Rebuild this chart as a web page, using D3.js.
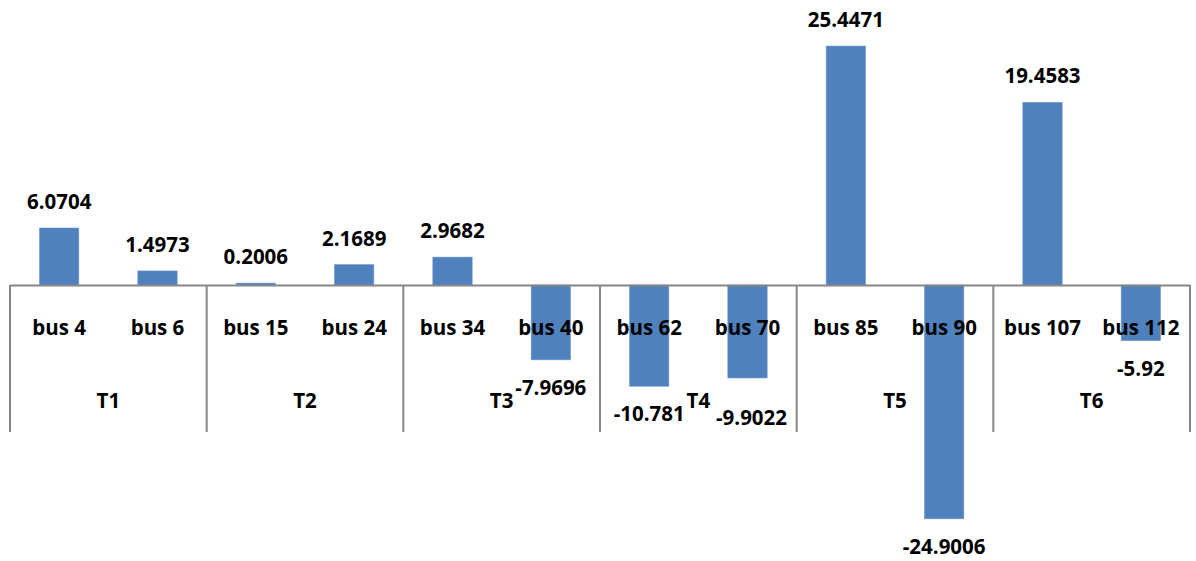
<!DOCTYPE html>
<html>
<head>
<meta charset="utf-8">
<script src="https://cdn.jsdelivr.net/npm/d3@7"></script>
<style>
  html, body { margin: 0; padding: 0; background: #fff; }
  svg { display: block; }
  text { font-family: "Open Sans", sans-serif; font-weight: 700; font-size: 20.5px; fill: #000; }
</style>
</head>
<body>
<svg id="chart" width="1196" height="561"></svg>
<script>
// chart data
const buses = ["bus 4", "bus 6", "bus 15", "bus 24", "bus 34", "bus 40",
               "bus 62", "bus 70", "bus 85", "bus 90", "bus 107", "bus 112"];
const groupOf = ["T1", "T1", "T2", "T2", "T3", "T3", "T4", "T4", "T5", "T5", "T6", "T6"];
const groups = ["T1", "T2", "T3", "T4", "T5", "T6"];
const values = [6.0704, 1.4973, 0.2006, 2.1689, 2.9682, -7.9696,
                -10.781, -9.9022, 25.4471, -24.9006, 19.4583, -5.92];

// small nudges Excel applied to a couple of labels (layout only)
const labelNudge = { "bus 70": [4, 12] };

const svg = d3.select("#chart");
const left = 10, right = 1190, zeroY = 285;
const pxPerUnit = 9.39;

const x = d3.scaleBand().domain(buses).range([left, right]).paddingInner(0.6).paddingOuter(0.3);
const xg = d3.scaleBand().domain(groups).range([left, right]);
const y = d3.scaleLinear().domain([-27, 27]).range([zeroY + 27 * pxPerUnit, zeroY - 27 * pxPerUnit]);

const rows = buses.map((b, i) => ({ bus: b, group: groupOf[i], v: values[i] }));

// bars
svg.append("g").selectAll("rect")
  .data(rows)
  .join("rect")
  .attr("x", d => x(d.bus))
  .attr("width", x.bandwidth())
  .attr("y", d => y(Math.max(0, d.v)))
  .attr("height", d => Math.abs(y(d.v) - y(0)))
  .attr("fill", "#4F81BD")
  .attr("stroke", "#6f98cc")
  .attr("stroke-width", 0.6);

// data labels
svg.append("g").selectAll("text")
  .data(rows)
  .join("text")
  .attr("text-anchor", "middle")
  .attr("x", d => x(d.bus) + x.bandwidth() / 2 + (labelNudge[d.bus] ? labelNudge[d.bus][0] : 0))
  .attr("y", d => (d.v >= 0 ? y(d.v) - 19 : y(d.v) + 35) + (labelNudge[d.bus] ? labelNudge[d.bus][1] : 0))
  .text(d => String(d.v));

// category axis (bus level)
const busAxis = svg.append("g")
  .attr("transform", `translate(0,${y(0)})`)
  .call(d3.axisBottom(d3.scaleBand().domain(buses).range([left, right])).tickSize(0).tickSizeOuter(0));
busAxis.select(".domain").attr("stroke", "#868686").attr("stroke-width", 2);
busAxis.selectAll(".tick text")
  .attr("y", 50).attr("dy", null)
  .attr("fill", "#000")
  .style("font-family", "'Open Sans', sans-serif").style("font-weight", 700).style("font-size", "20.5px");

// group axis (T level)
const groupAxis = svg.append("g")
  .attr("transform", `translate(0,${y(0)})`)
  .call(d3.axisBottom(xg).tickSize(0).tickSizeOuter(0));
groupAxis.select(".domain").remove();
groupAxis.selectAll(".tick text")
  .attr("y", 123).attr("dy", null)
  .attr("fill", "#000")
  .style("font-family", "'Open Sans', sans-serif").style("font-weight", 700).style("font-size", "20.5px");

// group separators
const edges = groups.map(g => xg(g)).concat([xg.range()[1]]);
svg.append("g").selectAll("line")
  .data(edges)
  .join("line")
  .attr("x1", d => d).attr("x2", d => d)
  .attr("y1", y(0)).attr("y2", y(0) + 147)
  .attr("stroke", "#868686")
  .attr("stroke-width", 2);
</script>
</body>
</html>
